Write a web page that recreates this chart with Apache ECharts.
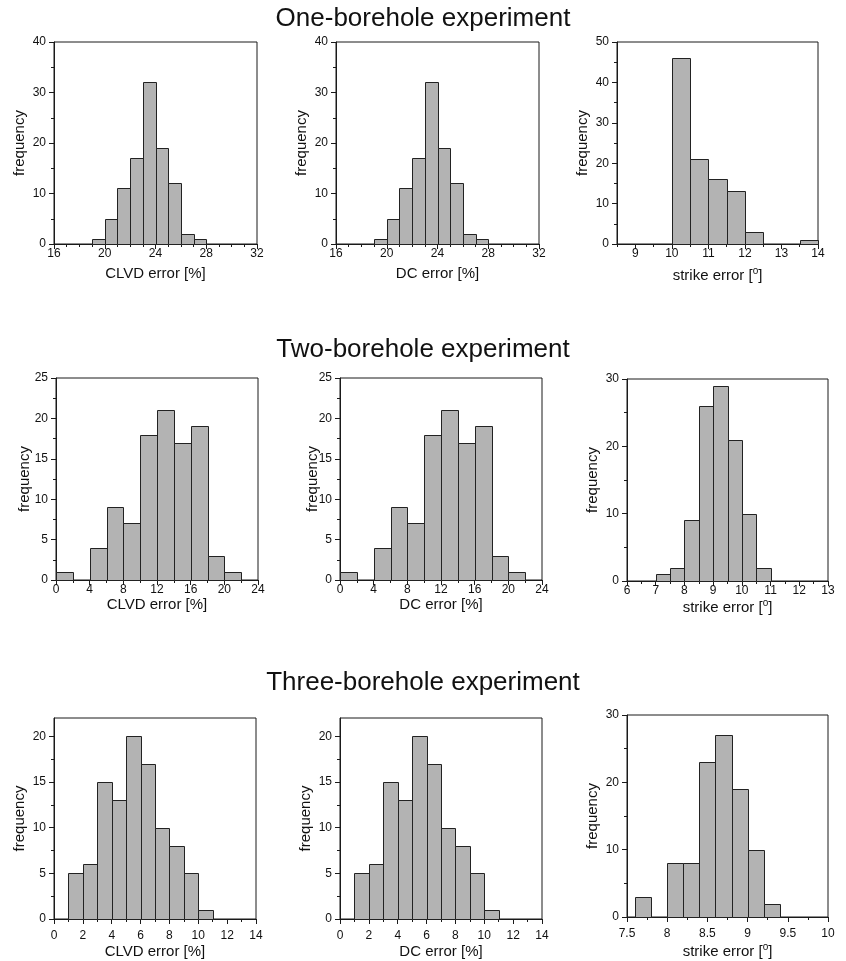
<!DOCTYPE html>
<html>
<head>
<meta charset="utf-8">
<title>borehole experiments</title>
<script src="https://cdn.jsdelivr.net/npm/echarts@6/dist/echarts.min.js"></script>
<style>
html, body { margin: 0; padding: 0; background: #fff; }
#chart { width: 846px; height: 961px; }
</style>
</head>
<body>
<div id="chart"></div>
<script>
// histogram bins: left edge of each bin and its count
let oneClvdStart = [19, 20, 21, 22, 23, 24, 25, 26, 27];
let oneClvdCount = [1, 5, 11, 17, 32, 19, 12, 2, 1];
let oneDcStart = [19, 20, 21, 22, 23, 24, 25, 26, 27];
let oneDcCount = [1, 5, 11, 17, 32, 19, 12, 2, 1];
let oneStrikeStart = [10, 10.5, 11, 11.5, 12, 13.5];
let oneStrikeCount = [46, 21, 16, 13, 3, 1];

let twoClvdStart = [0, 4, 6, 8, 10, 12, 14, 16, 18, 20];
let twoClvdCount = [1, 4, 9, 7, 18, 21, 17, 19, 3, 1];
let twoDcStart = [0, 4, 6, 8, 10, 12, 14, 16, 18, 20];
let twoDcCount = [1, 4, 9, 7, 18, 21, 17, 19, 3, 1];
let twoStrikeStart = [7, 7.5, 8, 8.5, 9, 9.5, 10, 10.5];
let twoStrikeCount = [1, 2, 9, 26, 29, 21, 10, 2];

let threeClvdStart = [1, 2, 3, 4, 5, 6, 7, 8, 9, 10];
let threeClvdCount = [5, 6, 15, 13, 20, 17, 10, 8, 5, 1];
let threeDcStart = [1, 2, 3, 4, 5, 6, 7, 8, 9, 10];
let threeDcCount = [5, 6, 15, 13, 20, 17, 10, 8, 5, 1];
let threeStrikeStart = [7.6, 8.0, 8.2, 8.4, 8.6, 8.8, 9.0, 9.2];
let threeStrikeCount = [3, 8, 8, 23, 27, 19, 10, 2];

// tick labels
let xTicksClvdOne = [16, 20, 24, 28, 32];
let xTicksStrikeOne = [9, 10, 11, 12, 13, 14];
let xTicksClvdTwo = [0, 4, 8, 12, 16, 20, 24];
let xTicksStrikeTwo = [6, 7, 8, 9, 10, 11, 12, 13];
let xTicksClvdThree = [0, 2, 4, 6, 8, 10, 12, 14];
let xTicksStrikeThree = [7.5, 8, 8.5, 9, 9.5, 10];
let yTicks40 = [0, 10, 20, 30, 40];
let yTicks50 = [0, 10, 20, 30, 40, 50];
let yTicks25 = [0, 5, 10, 15, 20, 25];
let yTicks30 = [0, 10, 20, 30];
let yTicks20 = [0, 5, 10, 15, 20];

let titles = ["One-borehole experiment", "Two-borehole experiment", "Three-borehole experiment"];
let titleY = [19, 350, 683];

let FONT = "Liberation Sans";
let STRIKE_NAME = "{t|strike error [}{s|o}{t|]}";

// label margin / name gap differ a bit from row to row in the original figure
let rowStyle = [
    { margin: 4, gap: 22 },
    { margin: 4, gap: 17 },
    { margin: 11, gap: 25 }
];

let panels = [
    { row: 0, grid: [54, 42, 203, 202], start: oneClvdStart, count: oneClvdCount, w: 1, x: [16, 32], xTicks: xTicksClvdOne, xMinor: 1, y: 40, yTicks: yTicks40, yMinor: 5, name: "CLVD error [%]" },
    { row: 0, grid: [336, 42, 203, 202], start: oneDcStart, count: oneDcCount, w: 1, x: [16, 32], xTicks: xTicksClvdOne, xMinor: 1, y: 40, yTicks: yTicks40, yMinor: 5, name: "DC error [%]" },
    { row: 0, grid: [617, 42, 201, 202], start: oneStrikeStart, count: oneStrikeCount, w: 0.5, x: [8.5, 14], xTicks: xTicksStrikeOne, xMinor: 0.5, y: 50, yTicks: yTicks50, yMinor: 5, name: STRIKE_NAME },
    { row: 1, grid: [56, 378, 202, 202], start: twoClvdStart, count: twoClvdCount, w: 2, x: [0, 24], xTicks: xTicksClvdTwo, xMinor: 2, y: 25, yTicks: yTicks25, yMinor: 2.5, name: "CLVD error [%]", yGap: 24 },
    { row: 1, grid: [340, 378, 202, 202], start: twoDcStart, count: twoDcCount, w: 2, x: [0, 24], xTicks: xTicksClvdTwo, xMinor: 2, y: 25, yTicks: yTicks25, yMinor: 2.5, name: "DC error [%]", yGap: 20 },
    { row: 1, grid: [627, 379, 201, 202], start: twoStrikeStart, count: twoStrikeCount, w: 0.5, x: [6, 13], xTicks: xTicksStrikeTwo, xMinor: 0.5, y: 30, yTicks: yTicks30, yMinor: 5, name: STRIKE_NAME },
    { row: 2, grid: [54, 718, 202, 201], start: threeClvdStart, count: threeClvdCount, w: 1, x: [0, 14], xTicks: xTicksClvdThree, xMinor: 1, y: 22, yTicks: yTicks20, yMinor: 2.5, name: "CLVD error [%]" },
    { row: 2, grid: [340, 718, 202, 201], start: threeDcStart, count: threeDcCount, w: 1, x: [0, 14], xTicks: xTicksClvdThree, xMinor: 1, y: 22, yTicks: yTicks20, yMinor: 2.5, name: "DC error [%]" },
    { row: 2, grid: [627, 715, 201, 202], start: threeStrikeStart, count: threeStrikeCount, w: 0.2, x: [7.5, 10], xTicks: xTicksStrikeThree, xMinor: 0.25, y: 30, yTicks: yTicks30, yMinor: 5, name: STRIKE_NAME }
];

// positions of the short ticks between the labelled ones
function minorValues(min, max, step, major) {
    let out = [];
    let n = Math.round((max - min) / step);
    for (let i = 0; i <= n; i++) {
        let v = +(min + i * step).toFixed(4);
        if (major.indexOf(v) < 0) out.push(v);
    }
    return out;
}

let axisLineStyle = { color: "#1a1a1a", width: 1 };
let labelStyle = { color: "#111", fontSize: 12, fontFamily: FONT };

let grid = [], xAxis = [], yAxis = [], series = [];

panels.forEach(function(p, i) {
    let rs = rowStyle[p.row];
    grid.push({
        left: p.grid[0], top: p.grid[1], width: p.grid[2], height: p.grid[3],
        show: true, borderColor: "#1a1a1a", borderWidth: 1
    });
    // main x axis
    xAxis.push({
        type: "value", gridIndex: i, min: p.x[0], max: p.x[1], position: "bottom",
        name: p.name, nameLocation: "middle", nameGap: rs.gap, nameMoveOverlap: false,
        nameTextStyle: {
            color: "#111", fontSize: 15, fontFamily: FONT,
            rich: {
                t: { fontSize: 15, fontFamily: FONT, color: "#111" },
                s: { fontSize: 10, fontFamily: FONT, color: "#111", padding: [0, 0, 9, 0] }
            }
        },
        axisLine: { onZero: false, lineStyle: axisLineStyle },
        axisTick: { inside: false, length: 5, customValues: p.xTicks, lineStyle: axisLineStyle },
        axisLabel: { customValues: p.xTicks, margin: rs.margin, ...labelStyle },
        splitLine: { show: false }
    });
    // minor x ticks
    xAxis.push({
        type: "value", gridIndex: i, min: p.x[0], max: p.x[1], position: "bottom", offset: 0,
        axisLine: { show: false },
        axisTick: { inside: false, length: 3, customValues: minorValues(p.x[0], p.x[1], p.xMinor, p.xTicks), lineStyle: axisLineStyle },
        axisLabel: { show: false },
        splitLine: { show: false }
    });
    yAxis.push({
        type: "value", gridIndex: i, min: 0, max: p.y, position: "left",
        name: "frequency", nameLocation: "middle", nameGap: p.yGap || 27, nameMoveOverlap: false,
        nameTextStyle: { color: "#111", fontSize: 15, fontFamily: FONT },
        axisLine: { show: true, onZero: false, lineStyle: axisLineStyle },
        axisTick: { show: true, inside: false, length: 5, customValues: p.yTicks, lineStyle: axisLineStyle },
        axisLabel: { customValues: p.yTicks, margin: 8, ...labelStyle },
        splitLine: { show: false }
    });
    yAxis.push({
        type: "value", gridIndex: i, min: 0, max: p.y, position: "left", offset: 0,
        axisLine: { show: false },
        axisTick: { show: true, inside: false, length: 3, customValues: minorValues(0, p.y, p.yMinor, p.yTicks), lineStyle: axisLineStyle },
        axisLabel: { show: false },
        splitLine: { show: false }
    });

    let w = p.w;
    series.push({
        type: "custom",
        xAxisIndex: 2 * i,
        yAxisIndex: 2 * i,
        encode: { x: [0, 1], y: 2 },
        data: p.start.map(function(s, k) { return [s, +(s + w).toFixed(4), p.count[k]]; }),
        renderItem: function(params, api) {
            let a = api.coord([api.value(0), api.value(2)]);
            let b = api.coord([api.value(1), 0]);
            let x0 = Math.round(a[0]) + 0.5, x1 = Math.round(b[0]) + 0.5;
            let y0 = Math.round(a[1]) + 0.5, y1 = Math.round(b[1]) + 0.5;
            return {
                type: "rect",
                shape: { x: x0, y: y0, width: x1 - x0, height: y1 - y0 },
                style: { fill: "#b3b3b3", stroke: "#222", lineWidth: 1 }
            };
        }
    });
});

let graphic = titles.map(function(t, i) {
    return {
        type: "text", x: 423, y: titleY[i],
        style: { text: t, fill: "#111", fontSize: 26, fontFamily: FONT, align: "center", verticalAlign: "middle" }
    };
});

let chart = echarts.init(document.getElementById("chart"), null, { renderer: "canvas" });
chart.setOption({
    animation: false,
    backgroundColor: "#fff",
    textStyle: { fontFamily: FONT },
    grid: grid,
    xAxis: xAxis,
    yAxis: yAxis,
    series: series,
    graphic: graphic
});
</script>
</body>
</html>
